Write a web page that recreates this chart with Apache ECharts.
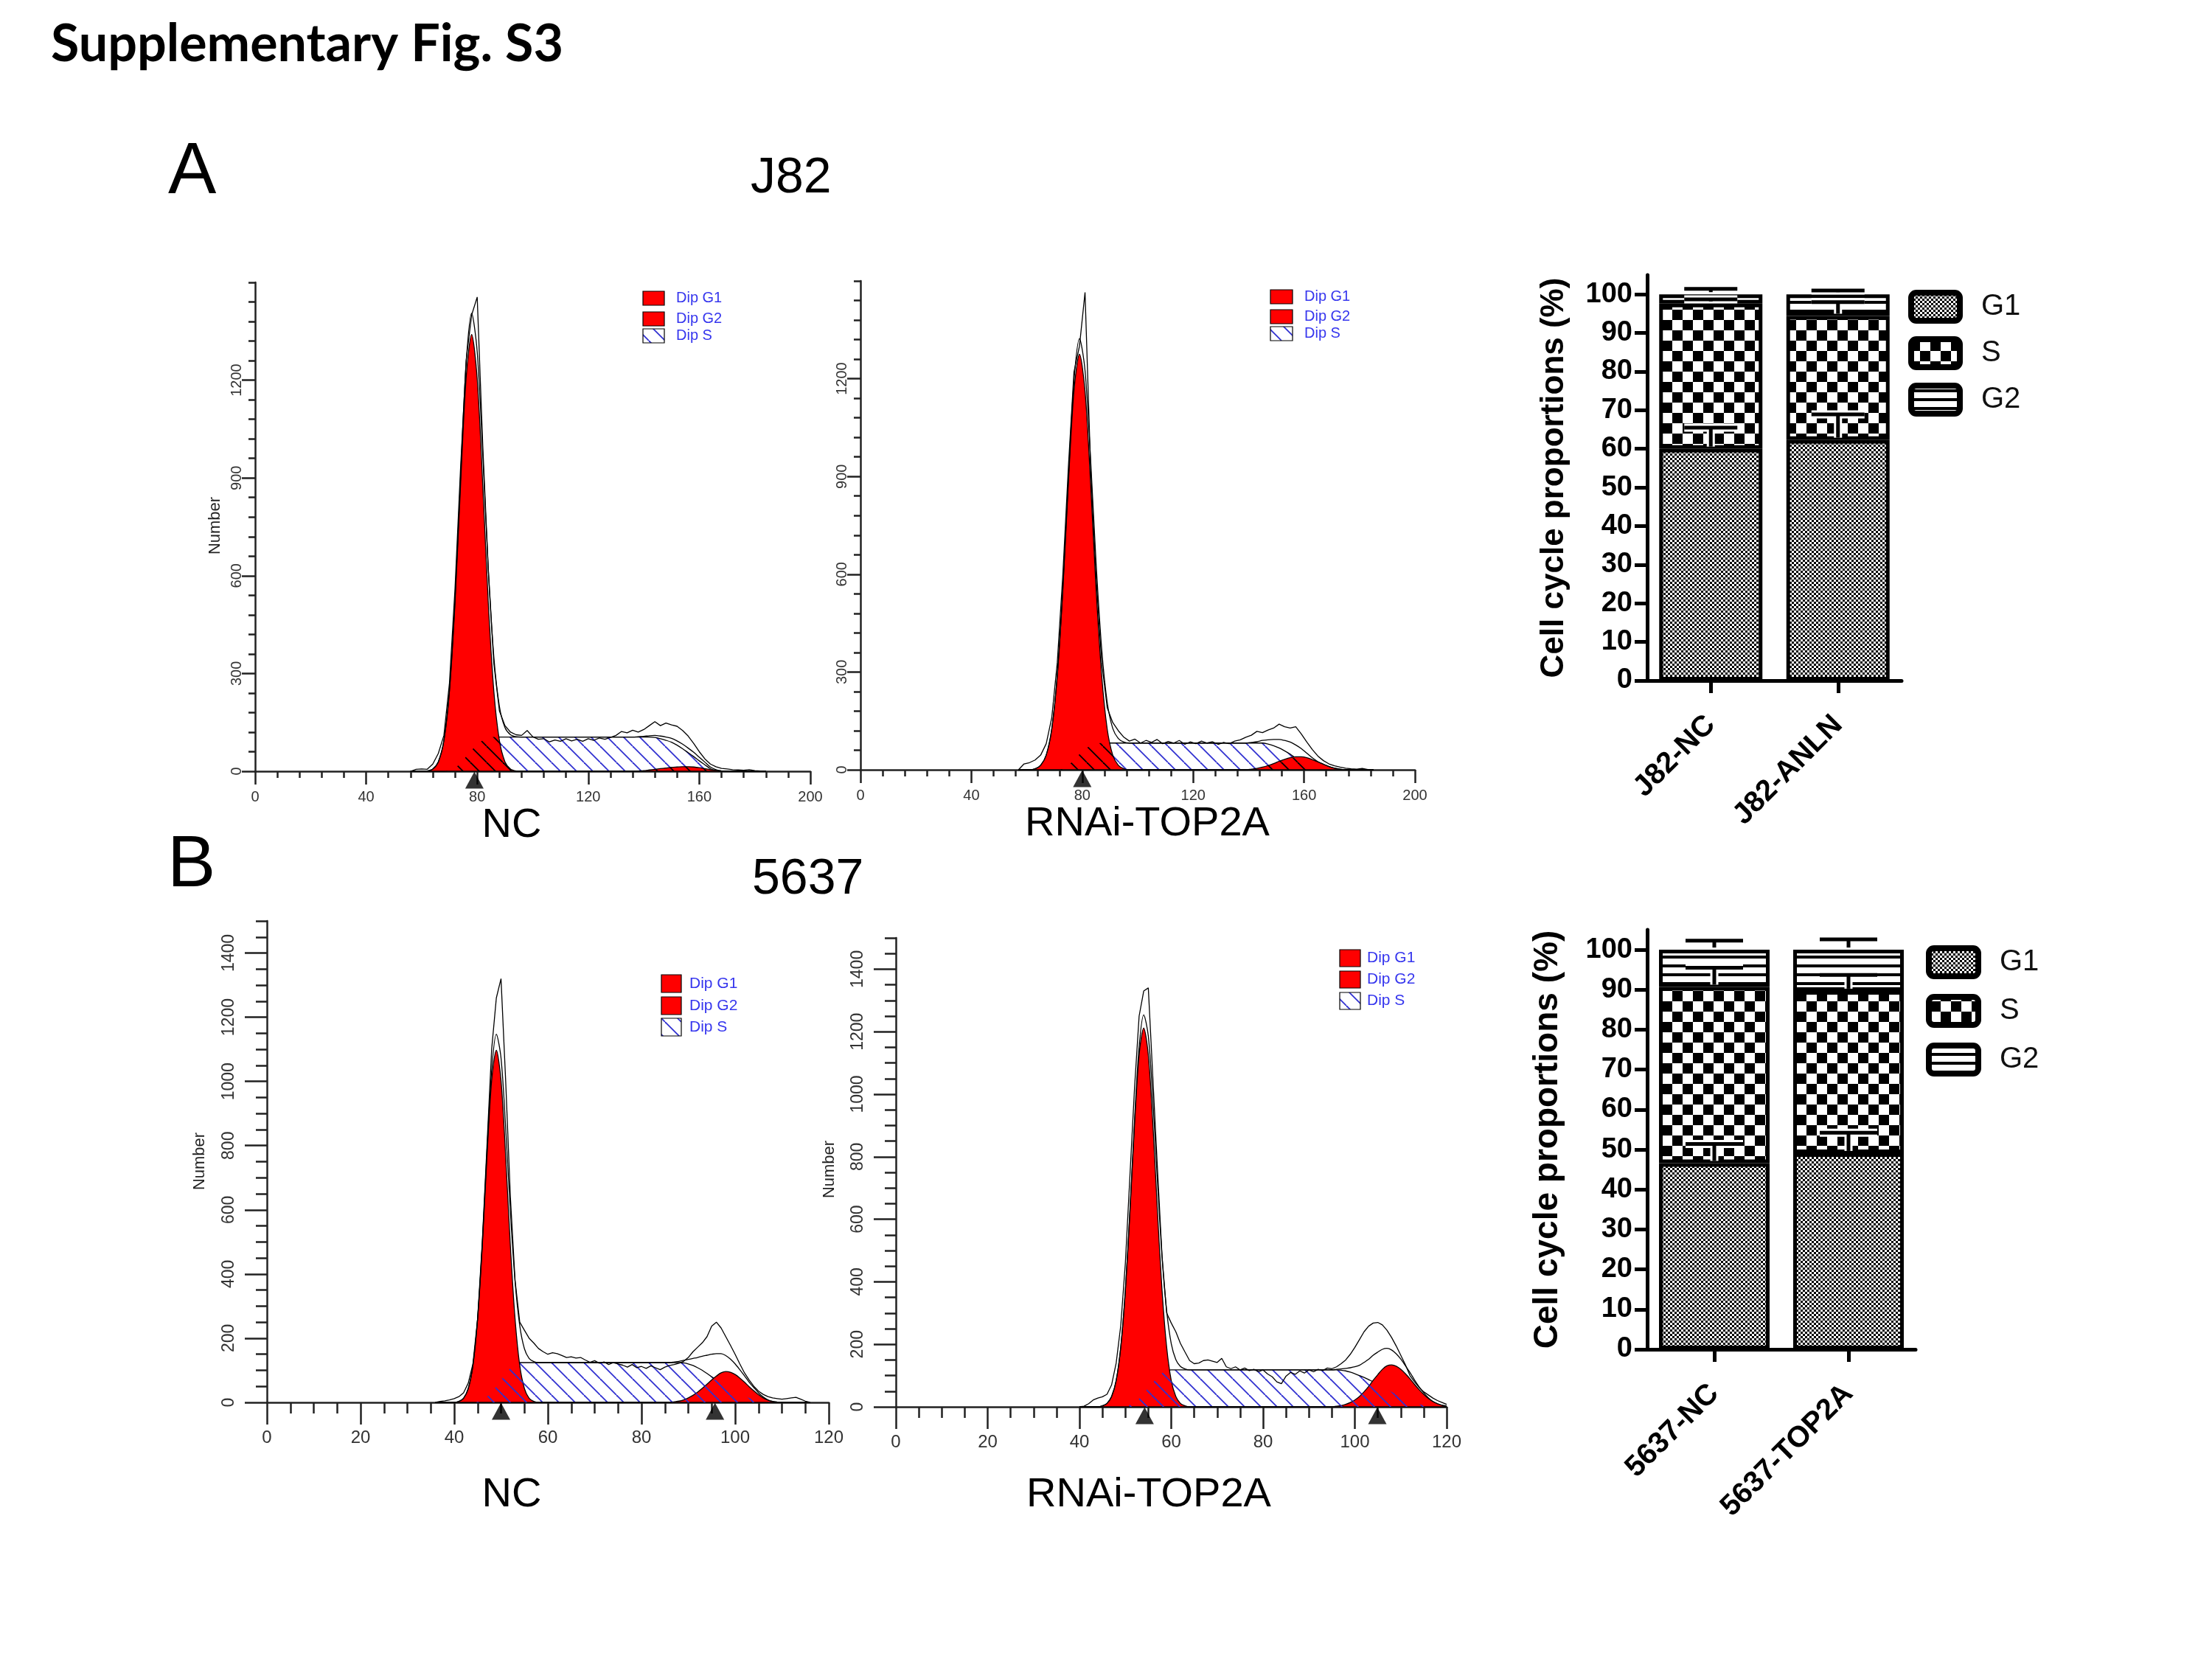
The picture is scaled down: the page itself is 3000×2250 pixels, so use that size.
<!DOCTYPE html>
<html>
<head>
<meta charset="utf-8">
<title>Supplementary Fig. S3</title>
<script src="https://cdn.jsdelivr.net/npm/echarts@6.0.0/dist/echarts.min.js"></script>
<style>
  html, body { margin: 0; padding: 0; background: #fff; }
  #main { width: 3000px; height: 2250px; }
</style>
</head>
<body>
<div id="main"></div>
<script>
// runs of zeros / flat plateaus
function z(n) { var a = []; for (var i = 0; i < n; i++) a.push(0); return a; }
function rep(v, n) { var a = []; for (var i = 0; i < n; i++) a.push(v); return a; }

// ---------- J82 flow histograms (channel step 2) ----------
var j82NcX0 = 56;
var j82KdX0 = 57;
var j82Step = 2;
var j82Count = 65;
var j82XTicks = [0, 40, 80, 120, 160, 200];
var j82YTicks = [0, 300, 600, 900, 1200];

var j82NcG1 = z(3).concat([1, 7, 29, 94, 245, 516, 877, 1205, 1340, 1205, 877, 516, 245, 94, 29, 7, 1]);
var j82NcS = z(7).concat([3, 10, 25, 45, 65, 82, 95, 102], rep(105, 29), [104, 100, 95, 89, 80, 69, 57, 45, 32, 20, 8, 2]);
var j82NcG2 = z(41).concat([1, 2, 4, 6, 8, 10, 12, 13, 14, 14, 13, 11, 8, 5, 3, 1]);
var j82NcRaw = [0, 6, 7, 6, 22, 55, 110, 270, 560, 930, 1260, 1400, 1455, 1000, 620, 330, 185, 140, 120, 112,
  110, 125, 106, 98, 100, 90, 96, 92, 100, 93, 98, 92, 100, 95, 102, 98, 104, 110, 122, 118,
  126, 120, 128, 140, 152, 140, 148, 142, 138, 125, 108, 85, 60, 38, 22, 14, 9, 7, 5, 4, 3, 5, 2, 1, 0];
var j82NcMarks = [79];

var j82KdG1 = z(3).concat([3, 14, 45, 125, 290, 553, 880, 1162, 1275, 1162, 880, 553, 290, 125, 45, 14, 3]);
var j82KdS = z(8).concat([4, 14, 30, 48, 63, 74, 80], rep(82, 30), [79, 74, 67, 58, 48, 36, 25, 14, 6, 1]);
var j82KdG2 = z(42).concat([2, 4, 8, 13, 19, 26, 32, 37, 40, 40, 37, 31, 24, 17, 10, 5, 2]);
var j82KdRaw = [0, 18, 22, 30, 45, 80, 160, 330, 600, 930, 1220, 1300, 1465, 930, 590, 330, 190, 145, 120, 100,
  88, 94, 82, 90, 84, 93, 80, 87, 82, 90, 78, 86, 80, 88, 82, 86, 78, 84, 80, 88,
  92, 100, 106, 118, 114, 122, 128, 140, 132, 128, 132, 110, 85, 62, 42, 28, 18, 12, 8, 5, 3, 2, 4, 1, 0];
var j82KdMarks = [80];

// ---------- 5637 flow histograms (channel step 1) ----------
var c5637NcX0 = 36;
var c5637KdX0 = 40;
var c5637Step = 1;
var c5637Count = 81;
var c5637XTicks = [0, 20, 40, 60, 80, 100, 120];
var c5637YTicks = [0, 200, 400, 600, 800, 1000, 1200, 1400];

var c5637NcG1 = z(5).concat([3, 13, 43, 115, 260, 487, 765, 1003, 1097, 1003, 765, 487, 260, 115, 43, 13, 3]);
var c5637NcS = z(9).concat([2, 8, 18, 32, 50, 70, 90, 106, 118], rep(124, 35),
  [123, 120, 115, 108, 100, 90, 80, 70, 60, 50, 41, 33, 26, 20, 14, 10, 6, 3, 1]);
var c5637NcG2 = z(51).concat([2, 4, 8, 14, 22, 32, 44, 57, 70, 82, 92, 96, 94, 87, 76, 63, 49, 36, 24, 14, 7, 3, 1]);
var c5637NcRaw = [0, 3, 5, 8, 12, 18, 30, 60, 120, 260, 500, 800, 1100, 1260, 1320, 1000, 640, 380, 250, 225,
  200, 185, 168, 158, 150, 155, 152, 146, 140, 142, 138, 140, 132, 125, 130, 122, 126, 118, 124, 120,
  116, 110, 118, 108, 112, 106, 114, 108, 102, 110, 115, 118, 122, 128, 140, 158, 172, 186, 205, 238,
  250, 232, 205, 178, 150, 120, 92, 70, 50, 35, 25, 18, 14, 12, 10, 12, 14, 16, 10, 4, 0];
var c5637NcMarks = [50, 95.7];

var c5637KdG1 = z(5).concat([3, 11, 33, 84, 191, 371, 623, 902, 1126, 1212, 1126, 902, 623, 371, 191, 84, 33, 11, 3]);
var c5637KdS = z(10).concat([2, 6, 14, 26, 42, 60, 78, 95, 108, 116], rep(118, 37),
  [117, 115, 111, 106, 100, 94, 87, 80, 72, 64, 56, 48, 40, 33, 26, 20, 14, 9, 5, 2]);
var c5637KdG2 = z(56).concat([2, 4, 8, 14, 22, 33, 48, 65, 85, 103, 120, 131, 134, 130, 120, 106, 90, 72, 55, 40, 27, 17, 10, 5, 3]);
var c5637KdRaw = [0, 2, 10, 22, 28, 32, 40, 70, 140, 260, 460, 740, 1020, 1250, 1330, 1340, 1050, 760, 480, 300,
  268, 240, 203, 175, 148, 138, 140, 148, 150, 146, 142, 155, 128, 122, 128, 118, 124, 116, 120, 112,
  118, 105, 96, 80, 74, 98, 110, 104, 115, 108, 118, 112, 120, 116, 124, 122, 128, 138, 150, 168,
  190, 215, 240, 258, 268, 270, 262, 245, 222, 195, 165, 135, 100, 80, 62, 48, 38, 28, 20, 14, 8];
var c5637KdMarks = [54.2, 104.9];

// ---------- cell cycle proportions (%) ----------
var barYTicks = [0, 10, 20, 30, 40, 50, 60, 70, 80, 90, 100];
var phaseNames = ['G1', 'S', 'G2'];

var j82Cats = ['J82-NC', 'J82-ANLN'];
var j82G1 = [60.0, 62.3];
var j82S = [37.6, 32.1];
var j82G2 = [2.4, 5.6];
var j82G1Err = [5.5, 6.6];
var j82SErr = [1.1, 3.6];
var j82G2Err = [1.4, 1.0];

var c5637Cats = ['5637-NC', '5637-TOP2A'];
var c5637G1 = [46.6, 49.1];
var c5637S = [44.1, 40.6];
var c5637G2 = [9.3, 10.3];
var c5637G1Err = [4.8, 5.1];
var c5637SErr = [4.8, 4.0];
var c5637G2Err = [2.3, 2.6];

// ---------- styles ----------
var SANS = "'Liberation Sans', Arial, sans-serif";
var AX = '#222';
var RED = '#ff0000';
var HATCH_BLUE = '#3030d0';
var LEG_BLUE = '#3636ee';

function plain(v) { return String(v); }

function hatch(color, bg) {
  var s = 22, c = document.createElement('canvas');
  c.width = s; c.height = s;
  var g = c.getContext('2d');
  if (bg) { g.fillStyle = bg; g.fillRect(0, 0, s, s); }
  g.strokeStyle = color; g.lineWidth = 1.8;
  for (var k = -1; k <= 1; k++) {
    g.beginPath(); g.moveTo(k * s, 0); g.lineTo(k * s + s, s); g.stroke();
  }
  return { image: c, repeat: 'repeat' };
}
function checker(cell) {
  var c = document.createElement('canvas');
  c.width = cell * 2; c.height = cell * 2;
  var g = c.getContext('2d');
  g.fillStyle = '#fff'; g.fillRect(0, 0, cell * 2, cell * 2);
  g.fillStyle = '#000'; g.fillRect(0, 0, cell, cell); g.fillRect(cell, cell, cell, cell);
  return { image: c, repeat: 'repeat' };
}
function stripes() {
  var c = document.createElement('canvas');
  c.width = 12; c.height = 12;
  var g = c.getContext('2d');
  g.fillStyle = '#fff'; g.fillRect(0, 0, 12, 12);
  g.fillStyle = '#000'; g.fillRect(0, 0, 12, 4);
  return { image: c, repeat: 'repeat' };
}
var phasePatterns = [checker(3), checker(14), stripes()];

var hists = [
  { grid: { left: 346, top: 383, width: 753, height: 663 }, x0: j82NcX0, step: j82Step, n: j82Count,
    g1: j82NcG1, s: j82NcS, g2: j82NcG2, raw: j82NcRaw, marks: j82NcMarks,
    xMax: 200, xTicks: j82XTicks, xMajor: 40, xMinor: 8, yTicks: j82YTicks, yMajor: 300, yMinor: 60,
    big: false, over: '#000',
    legend: { x: 872, ys: [395, 423, 446], w: 29, h: 19, tx: 917, fs: 20 } },
  { grid: { left: 1167, top: 381, width: 752, height: 663 }, x0: j82KdX0, step: j82Step, n: j82Count,
    g1: j82KdG1, s: j82KdS, g2: j82KdG2, raw: j82KdRaw, marks: j82KdMarks,
    xMax: 200, xTicks: j82XTicks, xMajor: 40, xMinor: 8, yTicks: j82YTicks, yMajor: 300, yMinor: 60,
    big: false, over: '#000',
    legend: { x: 1723, ys: [393, 420, 443], w: 30, h: 19, tx: 1769, fs: 20 } },
  { grid: { left: 362, top: 1249, width: 762, height: 653 }, x0: c5637NcX0, step: c5637Step, n: c5637Count,
    g1: c5637NcG1, s: c5637NcS, g2: c5637NcG2, raw: c5637NcRaw, marks: c5637NcMarks,
    xMax: 120, xTicks: c5637XTicks, xMajor: 20, xMinor: 5, yTicks: c5637YTicks, yMajor: 200, yMinor: 50,
    big: true, over: HATCH_BLUE,
    legend: { x: 897, ys: [1322, 1352, 1381], w: 27, h: 24, tx: 935, fs: 21 } },
  { grid: { left: 1215, top: 1272, width: 747, height: 636 }, x0: c5637KdX0, step: c5637Step, n: c5637Count,
    g1: c5637KdG1, s: c5637KdS, g2: c5637KdG2, raw: c5637KdRaw, marks: c5637KdMarks,
    xMax: 120, xTicks: c5637XTicks, xMajor: 20, xMinor: 5, yTicks: c5637YTicks, yMajor: 200, yMinor: 50,
    big: true, over: HATCH_BLUE,
    legend: { x: 1817, ys: [1288, 1317, 1346], w: 28, h: 23, tx: 1854, fs: 21 } }
];

var barSets = [
  { grid: { left: 2234, top: 373, width: 345, height: 550 }, cats: j82Cats,
    vals: [j82G1, j82S, j82G2], errs: [j82G1Err, j82SErr, j82G2Err],
    barWidth: 140, capHalf: 36, nameGap: 104, nameSize: 44,
    legend: { x: 2592, ys: [397, 460, 523], w: 66, h: 38, tx: 2687 } },
  { grid: { left: 2234, top: 1261, width: 364, height: 569 }, cats: c5637Cats,
    vals: [c5637G1, c5637S, c5637G2], errs: [c5637G1Err, c5637SErr, c5637G2Err],
    barWidth: 150, capHalf: 39, nameGap: 112, nameSize: 46,
    legend: { x: 2616, ys: [1286, 1352, 1418], w: 67, h: 38, tx: 2712 } }
];

var grids = [], xAxes = [], yAxes = [], series = [], graphics = [];

function val(a, i) { return a[i] || 0; }

hists.forEach(function (h) {
  var gi = grids.length;
  grids.push(h.grid);
  var majorLen = h.big ? 30 : 18, minorLen = h.big ? 15 : 9;
  var tickStyle = { color: AX, width: 2.5 };
  var xi = xAxes.length;
  xAxes.push({
    gridIndex: gi, type: 'value', min: 0, max: h.xMax, interval: h.xMajor, position: 'bottom',
    axisLine: { show: true, lineStyle: tickStyle },
    axisTick: { show: true, length: majorLen, customValues: h.xTicks, lineStyle: tickStyle },
    axisLabel: { customValues: h.xTicks, formatter: plain, fontSize: h.big ? 24 : 20, color: '#333', fontFamily: SANS, margin: h.big ? 36 : 25 },
    splitLine: { show: false }
  });
  xAxes.push({
    gridIndex: gi, type: 'value', min: 0, max: h.xMax, interval: h.xMinor, position: 'bottom',
    axisLine: { show: false }, axisTick: { show: true, length: minorLen, lineStyle: tickStyle },
    axisLabel: { show: false }, splitLine: { show: false }
  });
  var yi = yAxes.length;
  yAxes.push({
    gridIndex: gi, type: 'value', min: 0, max: 1500, interval: h.yMajor, position: 'left',
    axisLine: { show: true, lineStyle: tickStyle },
    axisTick: { show: true, length: majorLen, customValues: h.yTicks, lineStyle: tickStyle },
    axisLabel: { customValues: h.yTicks, formatter: plain, rotate: 90, fontSize: h.big ? 23 : 20, color: '#333', fontFamily: SANS, margin: h.big ? 40 : 15 },
    splitLine: { show: false }
  });
  yAxes.push({
    gridIndex: gi, type: 'value', min: 0, max: 1500, interval: h.yMinor, position: 'left',
    axisLine: { show: false }, axisTick: { show: true, length: minorLen, lineStyle: tickStyle },
    axisLabel: { show: false }, splitLine: { show: false }
  });

  function pts(f) {
    var out = [];
    for (var i = 0; i < h.n; i++) out.push([h.x0 + i * h.step, f(i)]);
    return out;
  }
  var base = { type: 'line', xAxisIndex: xi, yAxisIndex: yi, showSymbol: false, symbol: 'none', silent: true, animation: false };
  var thin = { color: '#000', width: 1.3 };

  series.push(Object.assign({}, base, { name: 'Dip S', z: 2, smooth: 0.3,
    data: pts(function (i) { return val(h.s, i); }),
    lineStyle: thin, areaStyle: { color: hatch(HATCH_BLUE), opacity: 1 } }));
  series.push(Object.assign({}, base, { name: 'Dip G1', z: 3, smooth: 0.3,
    data: pts(function (i) { return val(h.g1, i); }),
    lineStyle: thin, areaStyle: { color: RED, opacity: 1 } }));
  series.push(Object.assign({}, base, { name: 'Dip G2', z: 3, smooth: 0.3,
    data: pts(function (i) { return val(h.g2, i); }),
    lineStyle: thin, areaStyle: { color: RED, opacity: 1 } }));
  // S lying under the red peaks
  series.push(Object.assign({}, base, { name: 'overlap', z: 4, smooth: 0.3,
    data: pts(function (i) { return Math.min(val(h.s, i), val(h.g1, i) + val(h.g2, i)); }),
    lineStyle: { width: 0, opacity: 0 }, areaStyle: { color: hatch(h.over), opacity: 1 } }));
  // model sum
  series.push(Object.assign({}, base, { name: 'fit', z: 5, smooth: 0.3,
    data: pts(function (i) { return val(h.g1, i) + val(h.g2, i) + val(h.s, i); }),
    lineStyle: thin }));
  series.push(Object.assign({}, base, { name: 'data', z: 6,
    data: pts(function (i) { return val(h.raw, i); }),
    lineStyle: thin }));
  series.push({
    type: 'scatter', xAxisIndex: xi, yAxisIndex: yi, z: 8, clip: false, silent: true, animation: false,
    symbol: 'triangle', symbolSize: [25, 23], symbolOffset: [0, 12],
    itemStyle: { color: '#000' },
    data: h.marks.map(function (m) { return [m, 0]; })
  });

  var L = h.legend;
  var legItems = [['Dip G1', RED], ['Dip G2', RED], ['Dip S', hatch(HATCH_BLUE, '#fff')]];
  legItems.forEach(function (it, k) {
    graphics.push({ type: 'rect', shape: { x: L.x, y: L.ys[k], width: L.w, height: L.h },
      style: { fill: it[1], stroke: '#000', lineWidth: 1.2 }, z: 20 });
    graphics.push({ type: 'text', x: L.tx, y: L.ys[k] + L.h / 2, z: 20,
      style: { text: it[0], font: L.fs + 'px ' + SANS, fill: LEG_BLUE,
        textVerticalAlign: 'middle', verticalAlign: 'middle' } });
  });
});

function errRender(half) {
  return function (params, api) {
    var i = api.value(0);
    var a = api.coord([i, api.value(1)]);
    var b = api.coord([i, api.value(2)]);
    var segs = [[a[0], a[1] - 3, b[0], b[1]], [b[0] - half, b[1], b[0] + half, b[1]]];
    var children = [];
    segs.forEach(function (s) {
      children.push({ type: 'line', shape: { x1: s[0], y1: s[1], x2: s[2], y2: s[3] },
        style: { stroke: '#fff', lineWidth: 11 } });
    });
    segs.forEach(function (s) {
      children.push({ type: 'line', shape: { x1: s[0], y1: s[1], x2: s[2], y2: s[3] },
        style: { stroke: '#000', lineWidth: 5 } });
    });
    return { type: 'group', children: children };
  };
}

barSets.forEach(function (b) {
  var gi = grids.length;
  grids.push(b.grid);
  var xi = xAxes.length;
  xAxes.push({
    gridIndex: gi, type: 'category', data: b.cats, position: 'bottom',
    axisLine: { show: true, lineStyle: { color: '#000', width: 5 } },
    axisTick: { show: true, alignWithLabel: true, length: 17, lineStyle: { color: '#000', width: 5 } },
    axisLabel: { rotate: 45, fontSize: 40, fontWeight: 'bold', color: '#000', fontFamily: SANS, margin: 54 }
  });
  var yi = yAxes.length;
  yAxes.push({
    gridIndex: gi, type: 'value', min: 0, max: 105, interval: 10, position: 'left',
    name: 'Cell cycle proportions (%)', nameLocation: 'middle', nameGap: b.nameGap, nameRotate: 90,
    nameTextStyle: { fontSize: b.nameSize, fontWeight: 'bold', color: '#000', fontFamily: SANS },
    axisLine: { show: true, lineStyle: { color: '#000', width: 5 } },
    axisTick: { show: true, length: 17, customValues: barYTicks, lineStyle: { color: '#000', width: 5 } },
    axisLabel: { customValues: barYTicks, formatter: plain, fontSize: 38, fontWeight: 'bold', color: '#000', fontFamily: SANS, margin: 20 },
    splitLine: { show: false }
  });
  phaseNames.forEach(function (p, k) {
    series.push({
      type: 'bar', name: p, stack: 'cc' + gi, xAxisIndex: xi, yAxisIndex: yi,
      barWidth: b.barWidth, data: b.vals[k], silent: true, animation: false, z: 2,
      itemStyle: { color: phasePatterns[k], borderColor: '#000', borderWidth: 5 }
    });
  });
  var errData = [];
  b.cats.forEach(function (c, i) {
    var top = 0;
    for (var k = 0; k < 3; k++) {
      top += b.vals[k][i];
      errData.push([i, top, top + b.errs[k][i]]);
    }
  });
  series.push({
    type: 'custom', xAxisIndex: xi, yAxisIndex: yi, renderItem: errRender(b.capHalf),
    encode: { x: 0, y: [1, 2] }, data: errData, z: 6, silent: true, animation: false
  });

  var L = b.legend;
  phaseNames.forEach(function (p, k) {
    graphics.push({ type: 'rect', shape: { x: L.x, y: L.ys[k], width: L.w, height: L.h, r: 7 },
      style: { fill: phasePatterns[k], stroke: '#000', lineWidth: 8 }, z: 20 });
    graphics.push({ type: 'text', x: L.tx, y: L.ys[k] + L.h / 2, z: 20,
      style: { text: p, font: '40px ' + SANS, fill: '#111',
        textVerticalAlign: 'middle', verticalAlign: 'middle' } });
  });
});

// figure texts
function label(txt, x, y, font, align, rot, color) {
  graphics.push({ type: 'text', x: x, y: y, rotation: rot || 0, z: 20,
    style: { text: txt, font: font, fill: color || '#000',
      textAlign: align || 'left', align: align || 'left',
      textVerticalAlign: 'middle', verticalAlign: 'middle' } });
}
label('Supplementary Fig. S3', 69, 60, 'bold 70px Lato, ' + SANS);
label('A', 228, 235, '98px ' + SANS);
label('J82', 1018, 242, '68px ' + SANS);
label('B', 227, 1175, '98px ' + SANS);
label('5637', 1020, 1193, '68px ' + SANS);
label('NC', 694, 1120, '56px ' + SANS, 'center');
label('RNAi-TOP2A', 1556, 1118, '56px ' + SANS, 'center');
label('NC', 694, 2028, '56px ' + SANS, 'center');
label('RNAi-TOP2A', 1558, 2028, '56px ' + SANS, 'center');
label('Number', 292, 713, '22px ' + SANS, 'center', Math.PI / 2, '#222');
label('Number', 271, 1575, '22px ' + SANS, 'center', Math.PI / 2, '#222');
label('Number', 1125, 1586, '22px ' + SANS, 'center', Math.PI / 2, '#222');

var chart = echarts.init(document.getElementById('main'), null, { renderer: 'canvas' });
chart.setOption({
  backgroundColor: '#fff',
  animation: false,
  grid: grids,
  xAxis: xAxes,
  yAxis: yAxes,
  series: series,
  graphic: graphics
});
window.addEventListener('resize', function () { chart.resize(); });
</script>
</body>
</html>
